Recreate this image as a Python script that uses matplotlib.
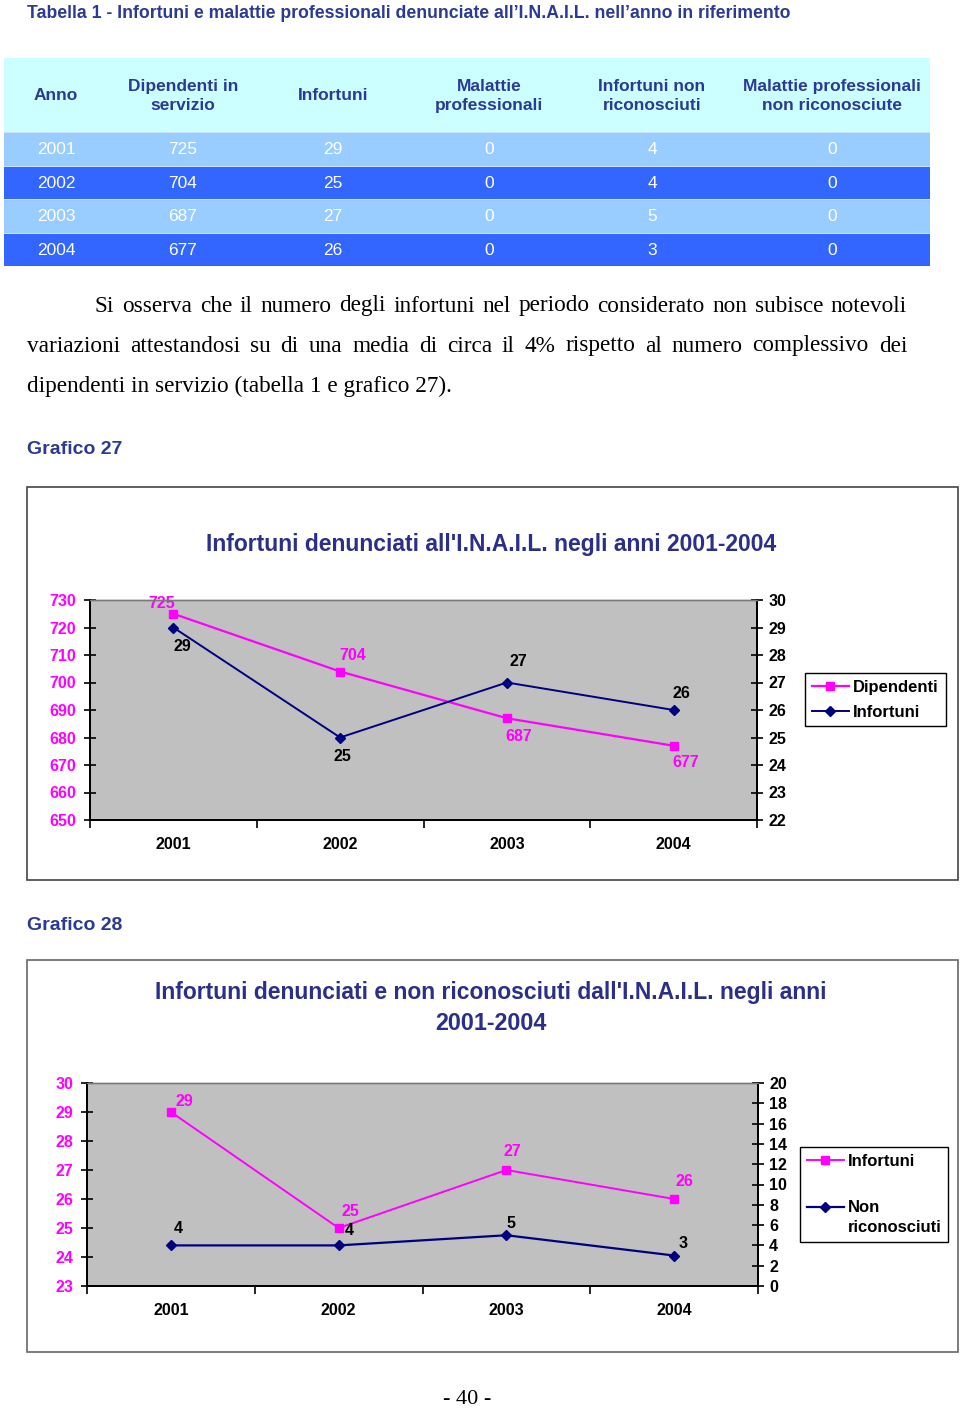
import matplotlib

matplotlib.use("Agg")
import matplotlib.pyplot as plt  # noqa: E402
from matplotlib.patches import Rectangle  # noqa: E402

SANS = ["Liberation Sans", "DejaVu Sans"]
SERIF = ["Liberation Serif", "DejaVu Serif"]
plt.rcParams.update({"font.family": SANS, "axes.linewidth": 1.0})

HEAD_TXT = "#2b3a94"
TITLE_TXT = "#2b2f88"
MAGENTA = "#ff00ff"
NAVY = "#000080"
PLOT_BG = "#c0c0c0"
ROW_COLORS = ["#99ccff", "#3366ff"]

# --- data -----------------------------------------------------------------
years = ["2001", "2002", "2003", "2004"]
dipendenti = [725, 704, 687, 677]
infortuni = [29, 25, 27, 26]
malattie = [0, 0, 0, 0]
inf_non_ric = [4, 4, 5, 3]
mal_non_ric = [0, 0, 0, 0]
headers = ["Anno", "Dipendenti in\nservizio", "Infortuni", "Malattie\nprofessionali",
           "Infortuni non\nriconosciuti", "Malattie professionali\nnon riconosciute"]
y1_left_ticks = [650, 660, 670, 680, 690, 700, 710, 720, 730]
y1_right_ticks = [22, 23, 24, 25, 26, 27, 28, 29, 30]
y2_left_ticks = [23, 24, 25, 26, 27, 28, 29, 30]
y2_right_ticks = [0, 2, 4, 6, 8, 10, 12, 14, 16, 18, 20]

paragraph = [
    "Si osserva che il numero degli infortuni nel periodo considerato non subisce notevoli",
    "variazioni attestandosi su di una media di circa il 4% rispetto al numero complessivo dei",
    "dipendenti in servizio (tabella 1 e grafico 27).",
]

# label offsets (pixels) for the data labels
off_dip = [(-12, 10), (13, 16), (12, -18), (12, -17)]
off_inf1 = [(9, -19), (2, -19), (11, 21), (8, 16)]
off_inf2 = [(14, 11), (12, 17), (6, 18), (10, 18)]
off_nr = [(7, 17), (11, 15), (5, 12), (9, 12)]

W, H = 960, 1408
fig = plt.figure(figsize=(W / 100, H / 100), dpi=100)
page = fig.add_axes([0, 0, 1, 1])
page.set_xlim(0, W)
page.set_ylim(H, 0)
page.axis("off")
renderer = fig.canvas.get_renderer()


def fit(x, y, s, width, **kw):
    t = page.text(x, y, s, **kw)
    w = t.get_window_extent(renderer).width
    t.set_fontsize(t.get_fontsize() * width / w)
    return t


def justify(words, x0, x1, y, **kw):
    ts = [page.text(0, y, w, va="center", **kw) for w in words]
    widths = [t.get_window_extent(renderer).width for t in ts]
    gap = (x1 - x0 - sum(widths)) / (len(ts) - 1)
    x = x0
    for t, w in zip(ts, widths):
        t.set_x(x)
        x += w + gap


def px_axes(x0, y0, x1, y1):
    return fig.add_axes([x0 / W, 1 - y1 / H, (x1 - x0) / W, (y1 - y0) / H])


# --- table ----------------------------------------------------------------
fit(27, 13, "Tabella 1 - Infortuni e malattie professionali denunciate all\u2019I.N.A.I.L. "
    "nell\u2019anno in riferimento", 755, fontsize=12, fontweight="bold",
    color=HEAD_TXT, va="center")

tx0, tx1 = 4, 930
col_x = [56, 183, 333, 489, 652, 832]
page.add_patch(Rectangle((tx0, 58), tx1 - tx0, 74, color="#ccffff", lw=0))
for cx, h in zip(col_x, headers):
    page.text(cx, 96, h, ha="center", va="center", fontsize=12.5, fontweight="bold",
              color=HEAD_TXT, linespacing=1.3, multialignment="center")

row_h = 33.5
columns = [years, dipendenti, infortuni, malattie, inf_non_ric, mal_non_ric]
for i in range(len(years)):
    top = 132 + i * row_h
    page.add_patch(Rectangle((tx0, top), tx1 - tx0, row_h, color=ROW_COLORS[i % 2], lw=0))
    page.add_patch(Rectangle((tx0, top), tx1 - tx0, 1.2, color="#c8e4ff", lw=0))
    for cx, col in zip(col_x, columns):
        page.text(cx, top + row_h / 2 + 1, str(col[i]), ha="center", va="center",
                  fontsize=12.5, color="white")

# --- paragraph ------------------------------------------------------------
last = fit(27, 386, paragraph[2], 425, va="center", fontfamily=SERIF, fontsize=16,
           color="black")
ptxt = dict(fontfamily=SERIF, fontsize=last.get_fontsize(), color="black")
justify(paragraph[0].split(), 95, 907, 306, **ptxt)
justify(paragraph[1].split(), 27, 907, 346, **ptxt)

page.text(27, 450, "Grafico 27", va="center", fontsize=14, fontweight="bold", color=HEAD_TXT)
page.text(27, 925, "Grafico 28", va="center", fontsize=14, fontweight="bold", color=HEAD_TXT)
page.text(467, 1399, "- 40 -", ha="center", va="center", fontfamily=SERIF, fontsize=16)

# chart frames
page.add_patch(Rectangle((27, 487), 931, 393, fill=False, ec="#444444", lw=1.2))
page.add_patch(Rectangle((27, 960), 931, 392, fill=False, ec="#666666", lw=1.2))


def style_axes(ax, axr, lcolor):
    ax.set_facecolor(PLOT_BG)
    ax.set_xlim(-0.5, len(years) - 0.5)
    ax.set_xticks([k - 0.5 for k in range(len(years) + 1)])
    ax.set_xticklabels([])
    ax.set_xticks(range(len(years)), minor=True)
    ax.set_xticklabels(years, minor=True)
    ax.tick_params(axis="x", which="major", direction="out", length=6, width=1.2)
    ax.tick_params(axis="x", which="minor", length=0, pad=12, labelsize=11.5)
    ax.tick_params(axis="y", direction="inout", length=8, width=1.2, pad=6,
                   labelsize=11.5, labelcolor=lcolor)
    axr.tick_params(axis="y", direction="inout", length=8, width=1.2, pad=4,
                    labelsize=11.5, labelcolor="black")
    for lab in ax.get_xticklabels(minor=True) + ax.get_yticklabels() + axr.get_yticklabels():
        lab.set_fontweight("bold")
    for a in (ax, axr):
        a.spines["top"].set_color("#7a7a7a")
        for s in ("left", "right", "bottom"):
            a.spines[s].set_color("black")
            a.spines[s].set_linewidth(1.3)
    axr.patch.set_visible(False)


def label_points(ax, xs, ys, offs, color):
    for x, y, (dx, dy) in zip(xs, ys, offs):
        ax.annotate(str(y), (x, y), xytext=(dx, dy), textcoords="offset pixels",
                    ha="center", va="center", fontsize=11.5, fontweight="bold", color=color)


xs = range(len(years))

# --- chart 27 -------------------------------------------------------------
fit(491, 544, "Infortuni denunciati all'I.N.A.I.L. negli anni 2001-2004", 570,
    ha="center", va="center", fontsize=16, fontweight="bold", color=TITLE_TXT)
ax1 = px_axes(90, 600, 757, 820)
ax1r = ax1.twinx()
ax1.set_ylim(650, 730)
ax1.set_yticks(y1_left_ticks)
ax1r.set_ylim(22, 30)
ax1r.set_yticks(y1_right_ticks)
l1, = ax1.plot(xs, dipendenti, color=MAGENTA, lw=1.6, marker="s", ms=6, label="Dipendenti")
l2, = ax1r.plot(xs, infortuni, color=NAVY, lw=1.4, marker="D", ms=5.5, label="Infortuni")
style_axes(ax1, ax1r, MAGENTA)
label_points(ax1, xs, dipendenti, off_dip, MAGENTA)
label_points(ax1r, xs, infortuni, off_inf1, "black")
ax1r.legend([l1, l2], ["Dipendenti", "Infortuni"], loc="upper left",
            bbox_to_anchor=(805 / W, 1 - 673 / H), bbox_transform=fig.transFigure,
            fancybox=False, edgecolor="black", framealpha=1, borderpad=0.4,
            handlelength=2.25, handletextpad=0.25, labelspacing=0.6,
            prop={"weight": "bold", "size": 12}, borderaxespad=0)

# --- chart 28 -------------------------------------------------------------
fit(491, 993, "Infortuni denunciati e non riconosciuti dall'I.N.A.I.L. negli anni", 672,
    ha="center", va="center", fontsize=16, fontweight="bold", color=TITLE_TXT)
fit(491, 1023, "2001-2004", 112, ha="center", va="center", fontsize=16,
    fontweight="bold", color=TITLE_TXT)
ax2 = px_axes(87, 1083, 758, 1286)
ax2r = ax2.twinx()
ax2.set_ylim(23, 30)
ax2.set_yticks(y2_left_ticks)
ax2r.set_ylim(0, 20)
ax2r.set_yticks(y2_right_ticks)
m1, = ax2.plot(xs, infortuni, color=MAGENTA, lw=1.4, marker="s", ms=6, label="Infortuni")
m2, = ax2r.plot(xs, inf_non_ric, color=NAVY, lw=1.6, marker="D", ms=5.5,
                label="Non\nriconosciuti")
style_axes(ax2, ax2r, MAGENTA)
label_points(ax2, xs, infortuni, off_inf2, MAGENTA)
label_points(ax2r, xs, inf_non_ric, off_nr, "black")
leg2 = ax2r.legend([m1, m2], ["Infortuni", "Non\nriconosciuti"], loc="upper left",
                   bbox_to_anchor=(800 / W, 1 - 1147 / H), bbox_transform=fig.transFigure,
                   fancybox=False, edgecolor="black", framealpha=1, borderpad=0.4,
                   handlelength=2.25, handletextpad=0.2, labelspacing=1.9,
                   prop={"weight": "bold", "size": 12}, borderaxespad=0)
leg2.get_texts()[1].set_linespacing(1.4)
# keep the marker on the first line of the two-line label, as in the original
h2 = leg2.legend_handles[1]
h2.set_ydata([y + 8 for y in h2.get_ydata()])

fig.savefig("out.png", dpi=100)
